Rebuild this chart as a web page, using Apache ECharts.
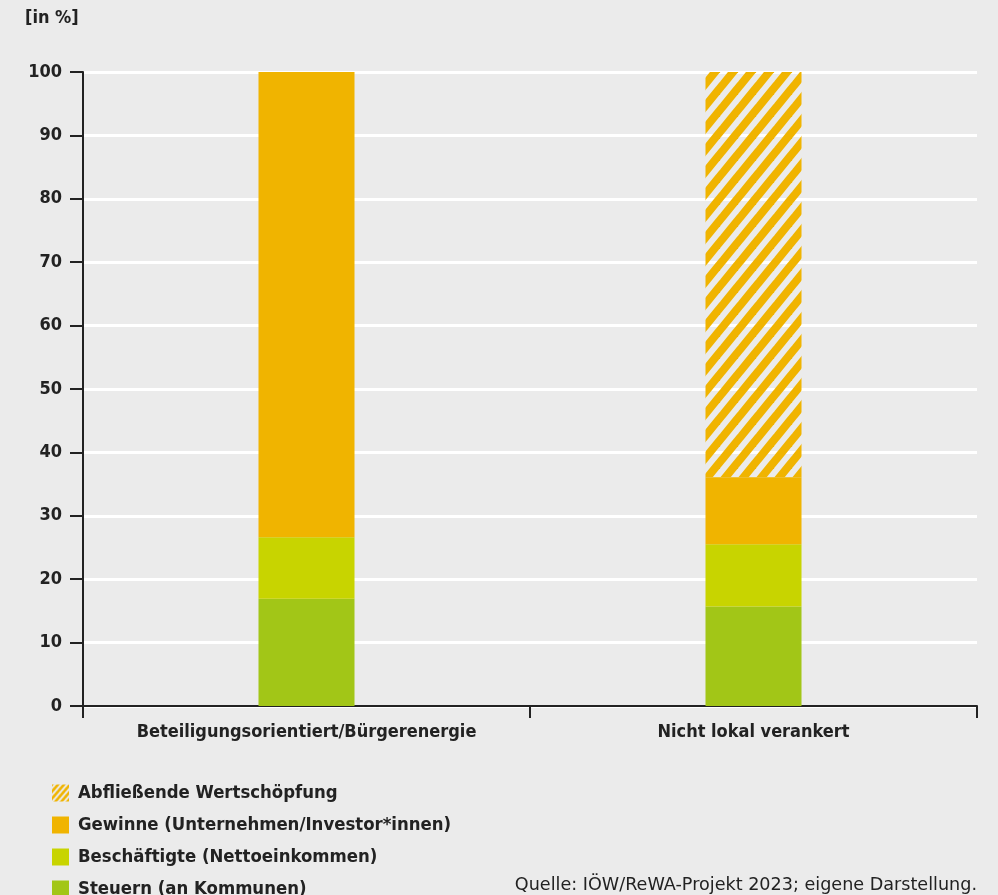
<!DOCTYPE html>
<html>
<head>
<meta charset="utf-8">
<script src="https://cdn.jsdelivr.net/npm/echarts@6/dist/echarts.min.js"></script>
<style>
  html, body { margin: 0; padding: 0; background: #ebebeb; }
  #chart { width: 998px; height: 895px; }
</style>
</head>
<body>
<div id="chart"></div>
<script>
var categories = ['Beteiligungsorientiert/Bürgerenergie', 'Nicht lokal verankert']
var steuern = [16.9, 15.7]
var beschaeftigte = [9.7, 9.8]
var gewinne = [73.4, 10.6]
var abfliessend = [0, 63.9]
var yTicks = [0, 10, 20, 30, 40, 50, 60, 70, 80, 90, 100]

var FONT = '"DejaVu Sans Condensed", "DejaVu Sans", sans-serif'
var ORANGE = '#f0b400'

// diagonal stripes for the hatched segment, transparent gaps
function makeHatch(w, h, lw) {
  var c = document.createElement('canvas')
  c.width = w
  c.height = h
  var ctx = c.getContext('2d')
  ctx.strokeStyle = ORANGE
  ctx.lineWidth = lw
  ctx.lineCap = 'square'
  for (var k = -2; k <= 2; k++) {
    ctx.beginPath()
    ctx.moveTo(k * w - w, 2 * h)
    ctx.lineTo(k * w + 2 * w, -h)
    ctx.stroke()
  }
  return c
}

var chart = echarts.init(document.getElementById('chart'))
var hatch = { image: makeHatch(18, 22, 8), repeat: 'repeat' }
var hatchSmall = { image: makeHatch(6, 7, 2.6), repeat: 'repeat' }

chart.setOption({
  backgroundColor: '#ebebeb',
  animation: false,
  textStyle: { fontFamily: FONT },
  grid: { left: 83, right: 21, top: 72, bottom: 189 },
  legend: {
    orient: 'vertical',
    left: 47,
    top: 779,
    height: 200,
    icon: 'rect',
    itemWidth: 17,
    itemHeight: 17,
    itemGap: 14,
    data: [
      { name: 'Abfließende Wertschöpfung', itemStyle: { color: hatchSmall } },
      'Gewinne (Unternehmen/Investor*innen)',
      'Beschäftigte (Nettoeinkommen)',
      'Steuern (an Kommunen)'
    ],
    textStyle: { fontFamily: FONT, fontWeight: 'bold', fontSize: 18.4, color: '#222', padding: [0, 0, 0, 4] }
  },
  graphic: [
    {
      type: 'text', left: 25, top: 9,
      style: { text: '[in %]', fontFamily: FONT, fontWeight: 'bold', fontSize: 18, fill: '#222' }
    },
    {
      type: 'text', right: 21, top: 876,
      style: { text: 'Quelle: IÖW/ReWA-Projekt 2023; eigene Darstellung.', fontFamily: '"DejaVu Sans", sans-serif', fontSize: 17.6, fill: '#222' }
    }
  ],
  xAxis: {
    type: 'category',
    data: categories,
    axisLine: { lineStyle: { color: '#222', width: 2 } },
    axisTick: { show: true, length: 12, lineStyle: { color: '#222', width: 2 } },
    axisLabel: { margin: 17, fontFamily: FONT, fontWeight: 'bold', fontSize: 18, color: '#222' }
  },
  yAxis: {
    type: 'value',
    min: yTicks[0],
    max: yTicks[yTicks.length - 1],
    interval: 10,
    axisLine: { show: true, lineStyle: { color: '#222', width: 2 } },
    axisTick: { show: true, length: 13, lineStyle: { color: '#222', width: 2 } },
    axisLabel: { margin: 21, fontFamily: FONT, fontWeight: 'bold', fontSize: 18, color: '#222' },
    splitLine: { lineStyle: { color: '#ffffff', width: 3 } }
  },
  series: [
    { name: 'Steuern (an Kommunen)', type: 'bar', stack: 'a', barWidth: 96, data: steuern, itemStyle: { color: '#a2c617' } },
    { name: 'Beschäftigte (Nettoeinkommen)', type: 'bar', stack: 'a', data: beschaeftigte, itemStyle: { color: '#c8d400' } },
    { name: 'Gewinne (Unternehmen/Investor*innen)', type: 'bar', stack: 'a', data: gewinne, itemStyle: { color: ORANGE } },
    { name: 'Abfließende Wertschöpfung', type: 'bar', stack: 'a', data: abfliessend, itemStyle: { color: hatch } }
  ]
})
</script>
</body>
</html>
